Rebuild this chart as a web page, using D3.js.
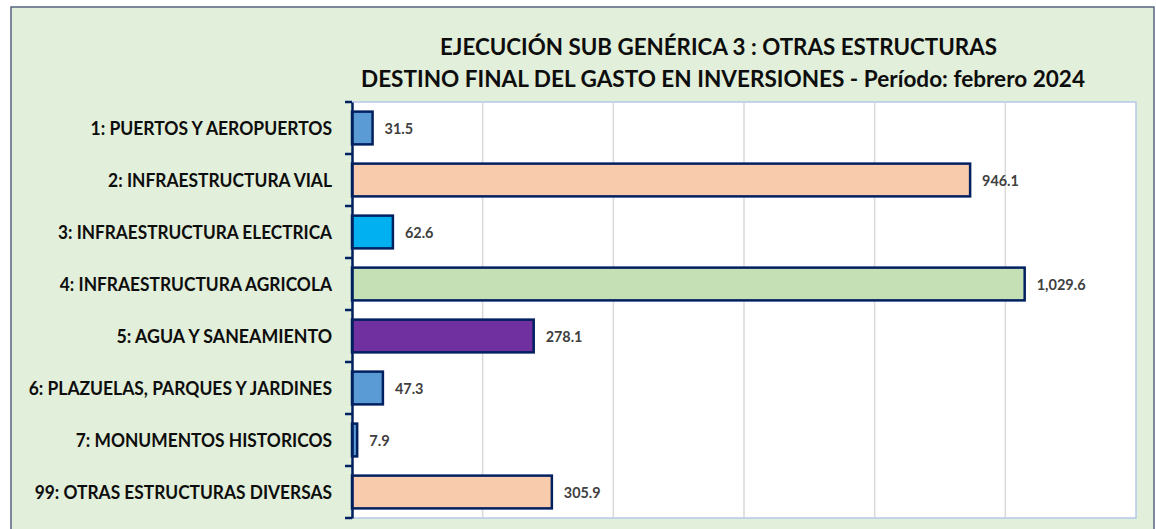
<!DOCTYPE html>
<html><head><meta charset="utf-8">
<script src="https://cdn.jsdelivr.net/npm/d3@7"></script>
<style>
html,body{margin:0;padding:0;background:#fff;}
svg{display:block;}
</style></head>
<body>
<svg id="chart" width="1156" height="529"></svg>
<script>
const titleLines = ["EJECUCIÓN SUB GENÉRICA 3 : OTRAS ESTRUCTURAS",
                    "DESTINO FINAL DEL GASTO EN INVERSIONES - Período: febrero 2024"];
const categories = ["1: PUERTOS Y AEROPUERTOS","2: INFRAESTRUCTURA VIAL","3: INFRAESTRUCTURA ELECTRICA",
  "4: INFRAESTRUCTURA AGRICOLA","5: AGUA Y SANEAMIENTO","6: PLAZUELAS, PARQUES Y JARDINES",
  "7: MONUMENTOS HISTORICOS","99: OTRAS ESTRUCTURAS DIVERSAS"];
const values = [31.5, 946.1, 62.6, 1029.6, 278.1, 47.3, 7.9, 305.9];
const xTicks = [0, 200, 400, 600, 800, 1000, 1200];
const barColors = ["#5B9BD5","#F8CBAD","#00B0F0","#C5E0B4","#7030A0","#5B9BD5","#5B9BD5","#F8CBAD"];

// approximate Calibri Bold advance widths (em) to size substitute font
const cw = {" ":.226,",":.258,"-":.306,".":.267,":":.276,"0":.507,"1":.507,"2":.507,"3":.507,"4":.507,"5":.507,"6":.507,"7":.507,"8":.507,"9":.507,
 A:.606,B:.561,C:.529,D:.630,E:.488,F:.459,G:.637,H:.631,I:.267,J:.331,K:.547,L:.423,M:.874,N:.659,O:.676,P:.532,Q:.686,R:.563,S:.473,T:.495,U:.653,V:.591,W:.906,X:.551,Y:.520,Z:.478,
 a:.494,b:.537,c:.418,d:.537,e:.503,f:.316,g:.474,h:.537,i:.246,j:.255,k:.480,l:.246,m:.813,n:.537,o:.538,p:.537,q:.537,r:.355,s:.399,t:.347,u:.537,v:.473,w:.745,x:.459,y:.474,z:.397,
 "Ó":.676,"É":.488,"í":.246};
const calW = (s, size) => Array.from(s).reduce((a,c)=>a+(cw[c]||.5),0)*size;

const W = 1156, H = 529;
const svg = d3.select("#chart");
const FONT = "Lato, 'Open Sans', sans-serif";

// outer background + border
svg.append("rect").attr("x",11).attr("y",7).attr("width",1154-11).attr("height",H)
  .attr("fill","#E2EFDA").attr("stroke","#56647F").attr("stroke-width",1.5);

const plot = {left:352, right:1136, top:102, bottom:518};
const x = d3.scaleLinear().domain([0, 1200]).range([plot.left, plot.right]);
const y = d3.scaleBand().domain(categories).range([plot.top, plot.bottom]).paddingInner(0.37).paddingOuter(0.185);
const yb = d3.scaleBand().domain(categories).range([plot.top, plot.bottom]);

// plot area
svg.append("rect").attr("x",plot.left).attr("y",plot.top)
  .attr("width",plot.right-plot.left).attr("height",plot.bottom-plot.top)
  .attr("fill","#fff").attr("stroke","#B4C7E7").attr("stroke-width",1.5);

// gridlines
svg.append("g").selectAll("line").data(xTicks.filter(t=>t>0 && t<1200)).join("line")
  .attr("x1",d=>x(d)).attr("x2",d=>x(d)).attr("y1",plot.top+1).attr("y2",plot.bottom-1)
  .attr("stroke","#D9D9D9").attr("stroke-width",1.5);

// bars
svg.append("g").selectAll("rect").data(values).join("rect")
  .attr("x",x(0)).attr("y",(d,i)=>y(categories[i]))
  .attr("width",d=>x(d)-x(0)).attr("height",y.bandwidth())
  .attr("fill",(d,i)=>barColors[i]).attr("stroke","#002060").attr("stroke-width",2.5);

// value labels
const fmt = d3.format(",.1f");
svg.append("g").selectAll("text").data(values).join("text")
  .attr("x",d=>x(d)+12).attr("y",(d,i)=>yb(categories[i])+yb.bandwidth()/2+5.5)
  .attr("font-family",FONT).attr("font-weight","bold").attr("font-size",14.4).attr("fill","#404040")
  .attr("textLength",d=>calW(fmt(d),16)).attr("lengthAdjust","spacingAndGlyphs")
  .text(d=>fmt(d));

// y axis
const yAxis = d3.axisLeft(yb).tickSize(0).tickFormat("");
const ag = svg.append("g").attr("transform",`translate(${plot.left},0)`).call(yAxis);
ag.select(".domain").attr("stroke","#002060").attr("stroke-width",2.5);
// category boundary ticks
const bounds = categories.map(c=>yb(c)).concat([plot.bottom]);
svg.append("g").selectAll("line").data(bounds).join("line")
  .attr("x1",plot.left-7).attr("x2",plot.left).attr("y1",d=>d).attr("y2",d=>d)
  .attr("stroke","#002060").attr("stroke-width",2.5);

// category labels
svg.append("g").selectAll("text").data(categories).join("text")
  .attr("x",332).attr("y",d=>yb(d)+yb.bandwidth()/2+6.5)
  .attr("text-anchor","end")
  .attr("font-family",FONT).attr("font-weight","bold").attr("font-size",18).attr("fill","#0D0D0D")
  .attr("textLength",d=>calW(d,20)).attr("lengthAdjust","spacingAndGlyphs")
  .text(d=>d);

// title
const tpos = [{x:440,y:55,w:557},{x:361,y:87,w:724}];
svg.append("g").selectAll("text").data(titleLines).join("text")
  .attr("x",(d,i)=>tpos[i].x).attr("y",(d,i)=>tpos[i].y)
  .attr("font-family",FONT).attr("font-weight","bold").attr("font-size",23).attr("fill","#0D0D0D")
  .attr("textLength",(d,i)=>tpos[i].w).attr("lengthAdjust","spacingAndGlyphs")
  .text(d=>d);
</script>
</body></html>
